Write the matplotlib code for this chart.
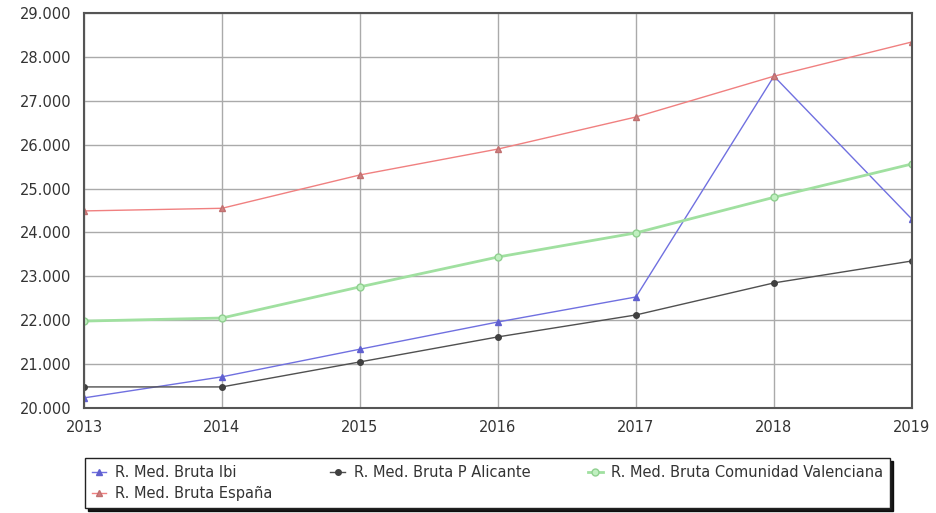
import matplotlib
matplotlib.use("Agg")
from matplotlib import pyplot as plt
from matplotlib.ticker import FuncFormatter

years = [2013, 2014, 2015, 2016, 2017, 2018, 2019]
ibi = [20230, 20710, 21340, 21960, 22530, 27560, 24300]
alicante = [20480, 20480, 21050, 21620, 22120, 22850, 23350]
valenciana = [21980, 22050, 22760, 23440, 23990, 24800, 25560]
espana = [24490, 24550, 25310, 25900, 26630, 27560, 28340]

fig = plt.figure(figsize=(9.37, 5.13), dpi=100)
ax = fig.add_axes([0.0896, 0.2047, 0.8837, 0.77])

l_ibi, = ax.plot(years, ibi, color='#7070e0', lw=1, marker='^', ms=5,
                 mfc='#6060d0', mec='#6060d0', label='R. Med. Bruta Ibi')
l_ali, = ax.plot(years, alicante, color='#505050', lw=1, marker='o', ms=4,
                 mfc='#404040', mec='#404040', label='R. Med. Bruta P Alicante')
l_val, = ax.plot(years, valenciana, color='#a0e0a0', lw=2, marker='o', ms=5,
                 mfc='#c0f0c0', mec='#90d090', label='R. Med. Bruta Comunidad Valenciana')
l_esp, = ax.plot(years, espana, color='#f08080', lw=1, marker='^', ms=5,
                 mfc='#d08080', mec='#c07070', label='R. Med. Bruta España')

ax.set_xlim(2013, 2019)
ax.set_ylim(20000, 29000)
ax.set_xticks(years)
ax.set_yticks(range(20000, 29001, 1000))
ax.yaxis.set_major_formatter(FuncFormatter(lambda v, p: f"{int(v):,}".replace(',', '.')))
ax.tick_params(length=0, labelsize=10.5, labelcolor='#333333')
ax.tick_params(axis='y', pad=9)
ax.tick_params(axis='x', pad=9)
ax.grid(True, color='#aaaaaa', lw=1)
for s in ax.spines.values():
    s.set_color('#555555')
    s.set_linewidth(1.5)

# order so that row 1 = Ibi, Alicante, Valenciana and row 2 = España
leg = fig.legend([l_ibi, l_esp, l_ali, l_val],
                 [l_ibi.get_label(), l_esp.get_label(), l_ali.get_label(), l_val.get_label()],
                 ncol=3, loc='upper left', bbox_to_anchor=(0.091, 0.0, 0.859, 0.107),
                 mode='expand', fontsize=10.5, frameon=True, fancybox=False,
                 shadow={'color': 'black', 'alpha': 0.9},
                 handlelength=1.0, handletextpad=0.6, columnspacing=1.5,
                 borderaxespad=0, borderpad=0.45, labelspacing=0.45)
leg.get_frame().set_edgecolor('#222222')
for t in leg.get_texts():
    t.set_color('#333333')

fig.savefig('out.png', dpi=100)
